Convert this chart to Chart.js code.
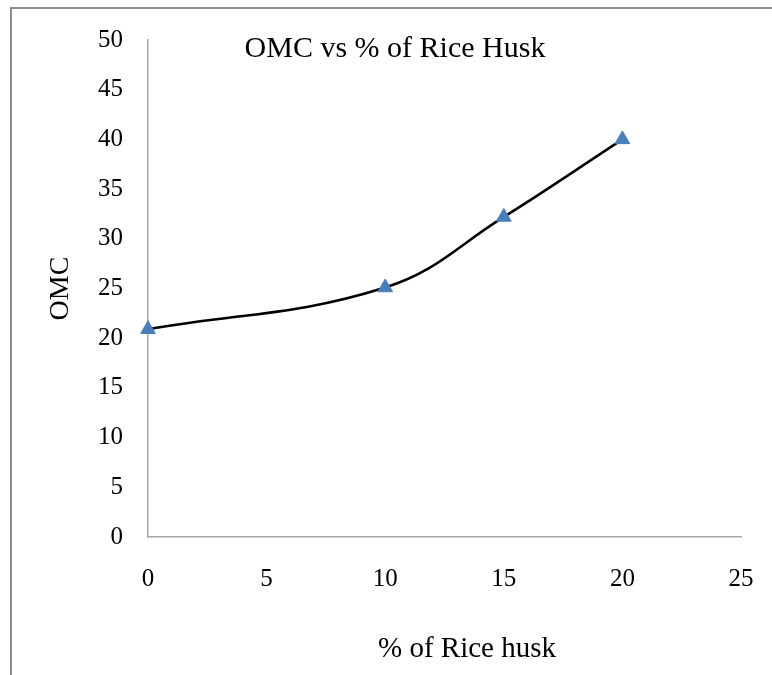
<!DOCTYPE html>
<html lang="en">
<head>
    <meta charset="UTF-8">
    <title>OMC vs % of Rice Husk</title>
    <style>
        body {
            margin: 0;
            background: #ffffff;
        }
        #wrap {
            position: relative;
            width: 772px;
            height: 675px;
            overflow: hidden;
        }
        /* frame round the chart, only left and top edges show in the picture */
        #frame {
            position: absolute;
            left: 10px;
            top: 7px;
            width: 800px;
            height: 700px;
            border-left: 2px solid #8e8e8e;
            border-top: 2px solid #8e8e8e;
        }
        #chart {
            position: absolute;
            left: 0;
            top: 0;
        }
    </style>
</head>
<body>
    <div id="wrap">
        <div id="frame"></div>
        <canvas id="chart" width="772" height="675"></canvas>
    </div>

    <script src="https://cdn.jsdelivr.net/npm/chart.js"></script>
    <script>
        // data
        const riceHusk = [0, 10, 15, 20];
        const omc = [20.9, 25.1, 32.2, 40];
        const xTicks = [0, 5, 10, 15, 20, 25];
        const yTicks = [0, 5, 10, 15, 20, 25, 30, 35, 40, 45, 50];

        const chartTitle = 'OMC vs % of Rice Husk';
        const xTitle = '% of Rice husk';
        const yTitle = 'OMC';

        const serif = "'Liberation Serif', 'Times New Roman', serif";

        // chart title sits inside the plot, x title is off centre: draw both here
        const textPlugin = {
            id: 'texts',
            afterDraw(chart) {
                const ctx = chart.ctx;
                const area = chart.chartArea;
                ctx.save();
                ctx.fillStyle = '#000';
                ctx.textAlign = 'center';
                ctx.textBaseline = 'middle';
                ctx.font = '30px ' + serif;
                ctx.fillText(chartTitle, area.left + 247, area.top + 9);
                ctx.font = '29px ' + serif;
                ctx.fillText(xTitle, area.left + 319, area.bottom + 112);
                ctx.restore();
            }
        };

        const ctx = document.getElementById('chart').getContext('2d');
        new Chart(ctx, {
            type: 'line',
            data: {
                datasets: [{
                    label: 'OMC',
                    data: riceHusk.map((x, i) => ({ x: x, y: omc[i] })),
                    borderColor: '#000000',
                    borderWidth: 2.5,
                    tension: 0.4,
                    pointStyle: 'triangle',
                    pointRadius: 8.5,
                    pointBackgroundColor: '#4a7ebb',
                    pointBorderColor: '#4a7ebb',
                    pointBorderWidth: 1,
                    fill: false,
                    clip: false
                }]
            },
            options: {
                responsive: false,
                animation: false,
                layout: {
                    autoPadding: false,
                    padding: { top: 35, right: 31, left: 0, bottom: 0 }
                },
                plugins: {
                    legend: { display: false },
                    tooltip: { enabled: false }
                },
                scales: {
                    x: {
                        type: 'linear',
                        min: 0,
                        max: 25,
                        afterBuildTicks: (scale) => {
                            scale.ticks = xTicks.map(v => ({ value: v }));
                        },
                        afterFit: (scale) => {
                            scale.height = 138;
                            // labels overhang is already covered by the layout padding
                            scale.paddingLeft = 0;
                            scale.paddingRight = 0;
                        },
                        grid: { drawOnChartArea: false, drawTicks: false },
                        border: { display: true, color: '#a6a6a6', width: 1.5 },
                        ticks: {
                            color: '#000',
                            padding: 27,
                            maxRotation: 0,
                            font: { family: serif, size: 25 }
                        }
                    },
                    y: {
                        min: 0,
                        max: 50,
                        afterBuildTicks: (scale) => {
                            scale.ticks = yTicks.map(v => ({ value: v }));
                        },
                        afterFit: (scale) => { scale.width = 148; },
                        grid: { drawOnChartArea: false, drawTicks: false },
                        border: { display: true, color: '#a6a6a6', width: 1.5 },
                        ticks: {
                            color: '#000',
                            padding: 25,
                            font: { family: serif, size: 25 }
                        },
                        title: {
                            display: true,
                            text: yTitle,
                            color: '#000',
                            font: { family: serif, size: 28 },
                            padding: { top: 44, bottom: 0 }
                        }
                    }
                }
            },
            plugins: [textPlugin]
        });
    </script>
</body>
</html>
